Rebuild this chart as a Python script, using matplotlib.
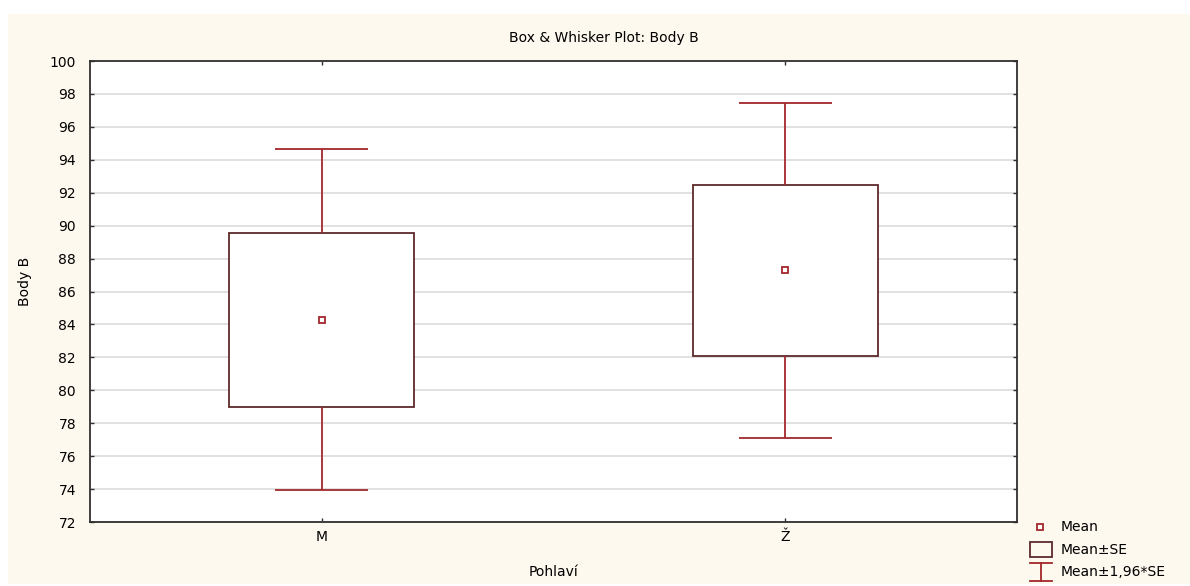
import matplotlib
matplotlib.use("Agg")
import matplotlib.pyplot as plt
from matplotlib.patches import Rectangle
import numpy as np

# summary statistics per group
groups = ["M", "Ž"]
means = [84.28, 87.28]
se = [5.28, 5.20]
z = 1.96

box_edge = "#5e2a2c"
whisk_col = "#a3282c"
cream = "#fef9ee"

plt.rcParams["font.family"] = ["DejaVu Sans"]
plt.rcParams["font.size"] = 10

W, H = 1190, 586
fig = plt.figure(figsize=(W / 100, H / 100), dpi=100, facecolor="white")

# cream panel behind everything
fig.patches.append(Rectangle((8 / W, 2 / H), 1 - 8 / W, (H - 16) / H,
                             transform=fig.transFigure, facecolor=cream,
                             edgecolor="none", zorder=-10))


def px_axes(x0, y0, x1, y1):
    # axes from pixel box (top-left origin)
    return fig.add_axes([x0 / W, 1 - y1 / H, (x1 - x0) / W, (y1 - y0) / H])


ax = px_axes(90, 61, 1017, 522)
ax.set_facecolor("white")
x = np.arange(1, len(groups) + 1)
box_w = 0.4
cap_w = 0.2

for xi, m, s in zip(x, means, se):
    lo, hi = m - s, m + s
    ax.add_patch(Rectangle((xi - box_w / 2, lo), box_w, hi - lo, facecolor="white",
                           edgecolor=box_edge, lw=1.3, zorder=3))
    ax.vlines(xi, hi, m + z * s, color=whisk_col, lw=1.3, zorder=3)
    ax.vlines(xi, m - z * s, lo, color=whisk_col, lw=1.3, zorder=3)
    ax.hlines([m + z * s, m - z * s], xi - cap_w / 2, xi + cap_w / 2,
              color=whisk_col, lw=1.3, zorder=3)
ax.plot(x, means, ls="none", marker="s", ms=4.5, mfc="white", mec=whisk_col,
        mew=1.3, zorder=4)

ax.set_xlim(0.5, 2.5)
ax.set_ylim(72, 100)
ax.set_yticks(np.arange(72, 101, 2))
ax.set_xticks(x)
ax.set_xticklabels(groups)
ax.grid(axis="y", color="#dedede", lw=1.3, zorder=0)
ax.set_axisbelow(True)
for sp in ax.spines.values():
    sp.set_color("#303030")
    sp.set_linewidth(1.3)
ax.tick_params(axis="y", direction="in", length=3, width=1, color="#303030",
               left=True, right=True, pad=10, labelsize=10)
ax.tick_params(axis="x", direction="in", length=3, width=1, color="#303030",
               top=True, bottom=True, pad=6, labelsize=10)

fig.text(604 / W, 1 - 38 / H, "Box & Whisker Plot: Body B", ha="center",
         va="center", fontsize=10)
fig.text(553 / W, 1 - 572 / H, "Pohlaví", ha="center", va="center", fontsize=10)
fig.text(25 / W, 1 - 281 / H, "Body B", ha="center", va="center",
         rotation=90, fontsize=10)

# legend drawn in its own pixel-space axes
lg = fig.add_axes([0, 0, 1, 1], facecolor="none")
lg.set_xlim(0, W)
lg.set_ylim(H, 0)
lg.axis("off")
lg.plot([1040], [527], ls="none", marker="s", ms=4.5, mfc="white",
        mec=whisk_col, mew=1.3)
lg.add_patch(Rectangle((1030, 542), 22, 15, facecolor="none",
                       edgecolor=box_edge, lw=1.3))
lg.plot([1030, 1052], [563, 563], color=whisk_col, lw=1.3)
lg.plot([1041, 1041], [563, 581], color=whisk_col, lw=1.3)
lg.plot([1030, 1052], [581, 581], color=whisk_col, lw=1.3)
for yy, lab in zip([527, 550, 572], ["Mean", "Mean±SE", "Mean±1,96*SE"]):
    lg.text(1061, yy, lab, ha="left", va="center", fontsize=10)

fig.savefig("out.png", dpi=100, facecolor="white")
